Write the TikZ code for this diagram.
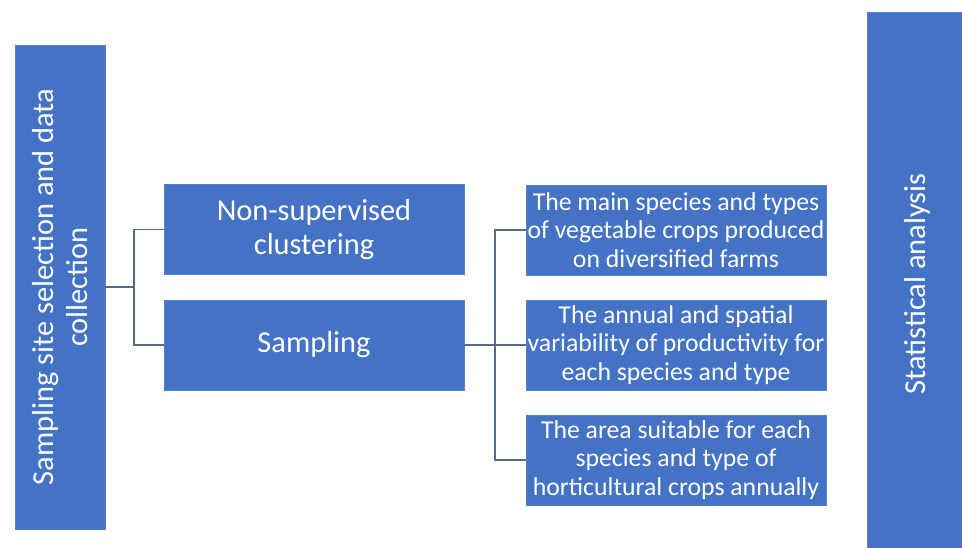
\documentclass[tikz,border=0pt]{standalone}
\usepackage{fontspec}
\setmainfont{Carlito}
\usetikzlibrary{calc}

\definecolor{boxblue}{HTML}{4472C4}
\definecolor{linegray}{HTML}{556A88}

\begin{document}
\begin{tikzpicture}[x=0.75pt, y=-0.75pt,
    box/.style={fill=boxblue, draw=boxblue!90!white, rectangle, text=white, align=center, inner xsep=0pt, inner ysep=1pt},
    bigtext/.style={font=\fontsize{22.8}{25}\selectfont},
    smalltext/.style={font=\fontsize{19.3}{21.6}\selectfont},
    link/.style={draw=linegray, line width=0.8pt}]

    \clip (0,0) rectangle (962,548);

    % Define nodes
    \node (site) [box, bigtext, rotate=90, minimum width=363pt, minimum height=67.5pt] at (60,287) {Sampling site selection and data\\collection};

    \node (clust) [box, bigtext, minimum width=225pt, minimum height=67.5pt] at (314,229.5) {Non-supervised\\clustering};
    \node (sampl) [box, bigtext, minimum width=225pt, minimum height=67.5pt] at (314,345) {Sampling};

    \node (crops) [box, smalltext, minimum width=225pt, minimum height=67.5pt] at (676,230) {The main species and types\\of vegetable crops produced\\on diversified farms};
    \node (prod) [box, smalltext, minimum width=225pt, minimum height=67.5pt] at (676,345) {The annual and spatial\\variability of productivity for\\each species and type};
    \node (area) [box, smalltext, minimum width=225pt, minimum height=67.5pt] at (676,460) {The area suitable for each\\species and type of\\horticultural crops annually};

    \node (stat) [box, bigtext, rotate=90, minimum width=408pt, minimum height=75pt] at (917,284) {Statistical analysis};

    \coordinate (j1) at (134,287);
    \coordinate (j2) at (495,345);

    % Draw connectors
    \draw[link] (site.south) -- (j1);
    \draw[link] (j1) |- (clust.west);
    \draw[link] (j1) |- (sampl.west);
    \draw[link] (sampl.east) -- (j2);
    \draw[link] (j2) |- (crops.west);
    \draw[link] (j2) -- (prod.west);
    \draw[link] (j2) |- (area.west);

\end{tikzpicture}
\end{document}
